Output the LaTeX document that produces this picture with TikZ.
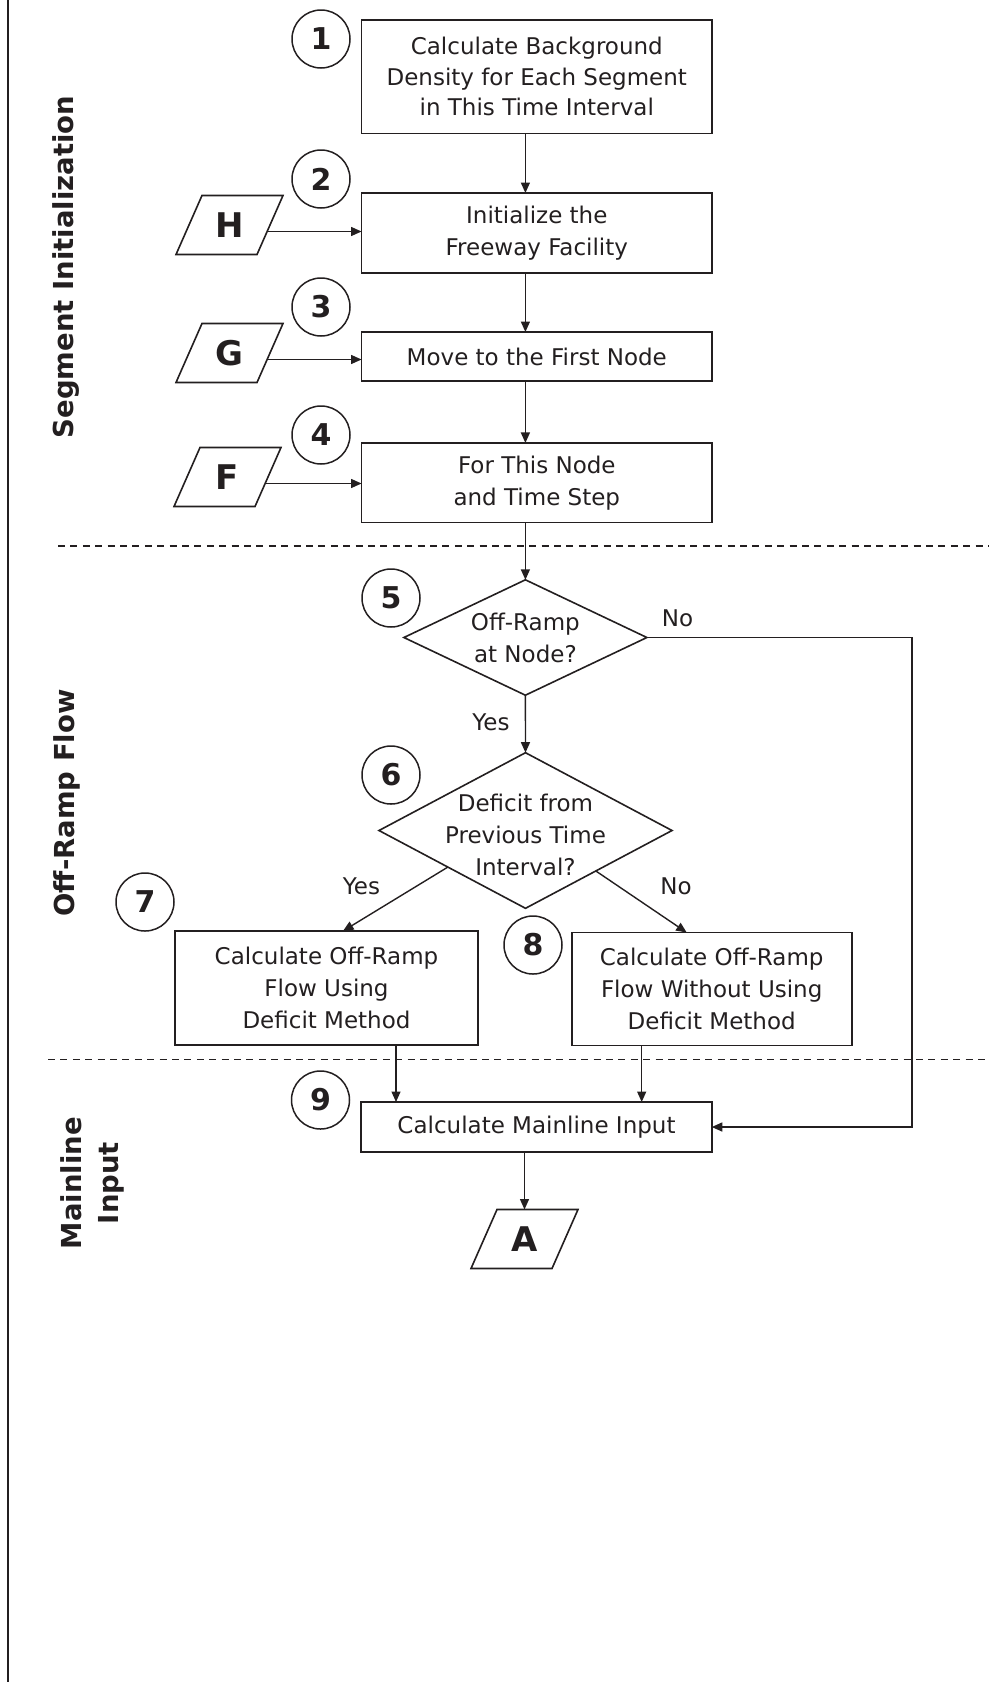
\documentclass[tikz,border=0pt]{standalone}
\usepackage{fontspec}
\setmainfont{DejaVu Sans}
\usetikzlibrary{shapes.geometric,arrows.meta,calc}
\definecolor{inkc}{HTML}{231F20}
\newcommand\boxfont{\fontsize{23}{32}\selectfont}
\newcommand\tagfont{\fontsize{30}{30}\selectfont\bfseries}
\newcommand\iofont{\fontsize{34}{34}\selectfont\bfseries}
\newcommand\lanefont{\fontsize{27.5}{37}\selectfont\bfseries}

\begin{document}
\begin{tikzpicture}[x=1pt,y=-1pt,
  every node/.style={text=inkc, outer sep=0pt},
  stepbox/.style={draw=inkc, line width=1.6pt, rectangle, minimum width=350.5pt,
    align=center, inner sep=0pt, font=\boxfont},
  decision/.style={draw=inkc, line width=1.6pt, diamond, inner sep=-10pt,
    align=center, font=\boxfont},
  iobox/.style={rectangle, minimum width=81pt, minimum height=59pt, inner sep=0pt,
    font=\iofont},
  ioedge/.style={draw=inkc, line width=1.6pt, line join=miter},
  steptag/.style={draw=inkc, line width=1.5pt, circle, minimum size=58pt,
    inner sep=0pt, font=\tagfont},
  answer/.style={font=\boxfont, inner sep=0pt},
  lane/.style={rotate=90, font=\lanefont, inner sep=0pt},
  flow/.style={draw=inkc, line width=1.4pt, -{Triangle[length=10.5pt,width=9pt]}},
  divider/.style={draw=inkc, line width=1.7pt, dash pattern=on 7pt off 5.4pt},
]
\useasboundingbox (0,0) rectangle (989,1682);

% swim-lane frame and dividers
\draw[draw=inkc, line width=2.2pt] (8,0) -- (8,1682);
\draw[divider] (58,546) -- (989,546);
\draw[divider] (48,1059.5) -- (989,1059.5);

% lane titles
\node[lane, anchor=base] (laneA) at (73,267) {Segment Initialization};
\node[lane, anchor=base] (laneB) at (74,803) {Off-Ramp Flow};
\node[lane, align=center] (laneC) at (92,1183) {Mainline\\Input};

% process steps
\node[stepbox, minimum height=113.3pt, font=\fontsize{23}{30.5}\selectfont] (b1)
  at (536.8,76.7) {Calculate Background\\Density for Each Segment\\in This Time Interval};
\node[stepbox, minimum height=80pt] (b2) at (536.8,233) {Initialize the\\Freeway Facility};
\node[stepbox, minimum height=49pt] (b3) at (536.8,356.5) {Move to the First Node};
\node[stepbox, minimum height=79.5pt] (b4) at (536.8,482.7) {For This Node\\and Time Step};
\node[decision, aspect=2.1, minimum width=243pt, minimum height=115.4pt] (d5)
  at (525.4,637.5) {Off-Ramp\\at Node?};
\node[decision, aspect=1.88, minimum width=293pt, minimum height=155.6pt] (d6)
  at (525.5,830.5) {\rule{0pt}{27pt}Deficit from\\Previous Time\\Interval?};
\node[stepbox, minimum width=303pt, minimum height=114pt] (b7) at (326.5,988)
  {Calculate Off-Ramp\\Flow Using\\Deficit Method};
\node[stepbox, minimum width=280pt, minimum height=113pt] (b8) at (711.7,989)
  {Calculate Off-Ramp\\Flow Without Using\\Deficit Method};
\node[stepbox, minimum height=50pt] (b9) at (536.5,1127) {Calculate Mainline Input};

% off-page connectors (parallelograms leaning right)
\node[iobox] (H) at (229.5,225) {H};
\node[iobox] (G) at (229.5,353) {G};
\node[iobox] (F) at (227.5,477) {F};
\node[iobox] (A) at (524.5,1239) {A};
\foreach \n in {H,G,F,A}
  \draw[ioedge] ([xshift=-13pt]\n.south west) -- ([xshift=-13pt]\n.south east)
    -- ([xshift=13pt]\n.north east) -- ([xshift=13pt]\n.north west) -- cycle;
% points on the right slanted edges where the input arrows leave
\coordinate (Hout) at ($([xshift=13pt]H.north east)!0.61!([xshift=-13pt]H.south east)$);
\coordinate (Gout) at ($([xshift=13pt]G.north east)!0.61!([xshift=-13pt]G.south east)$);
\coordinate (Fout) at ($([xshift=13pt]F.north east)!0.61!([xshift=-13pt]F.south east)$);

% step numbers
\node[steptag] (c1) at (321,39) {1};
\node[steptag] (c2) at (321,179) {2};
\node[steptag] (c3) at (321,307) {3};
\node[steptag] (c4) at (321,435) {4};
\node[steptag] (c5) at (391,598) {5};
\node[steptag] (c6) at (391,775) {6};
\node[steptag] (c7) at (145,902) {7};
\node[steptag] (c8) at (533,945) {8};
\node[steptag] (c9) at (320.5,1100) {9};

% main flow
\draw[flow] (b1.south -| d5.north) -- (b2.north -| d5.north);
\draw[flow] (b2.south -| d5.north) -- (b3.north -| d5.north);
\draw[flow] (b3.south -| d5.north) -- (b4.north -| d5.north);
\draw[flow] (b4.south -| d5.north) -- (d5.north);
\draw[flow] (d5.south) -- (d6.north);

% inputs from other pages
\draw[flow] (Hout) -- (Hout -| b2.west);
\draw[flow] (Gout) -- (Gout -| b3.west);
\draw[flow] (Fout) -- (Fout -| b4.west);

% deficit branches
\draw[flow] ($(d6.west)!0.47!(d6.south)$) -- ([xshift=16.5pt]b7.north);
\draw[flow] ($(d6.east)!0.52!(d6.south)$) -- ([xshift=-25pt]b8.north);
\draw[flow] ([xshift=69.5pt]b7.south) -- ([xshift=69.5pt]b7.south |- b9.north);
\draw[flow] ([xshift=-70pt]b8.south) -- ([xshift=-70pt]b8.south |- b9.north);

% no off-ramp: bypass to mainline input
\coordinate (bypass) at (912,0);
\draw[flow] (d5.east) -- (d5.east -| bypass) -- (b9.east -| bypass) -- (b9.east);

\draw[flow] (b9.south -| A.north) -- (A.north);

% branch labels
\node[answer] (n5) at (677.5,618) {No};
\node[answer] (y5) at (491,722) {Yes};
\node[answer] (y6) at (361.5,886) {Yes};
\node[answer] (n6) at (676,886) {No};
\end{tikzpicture}
\end{document}
